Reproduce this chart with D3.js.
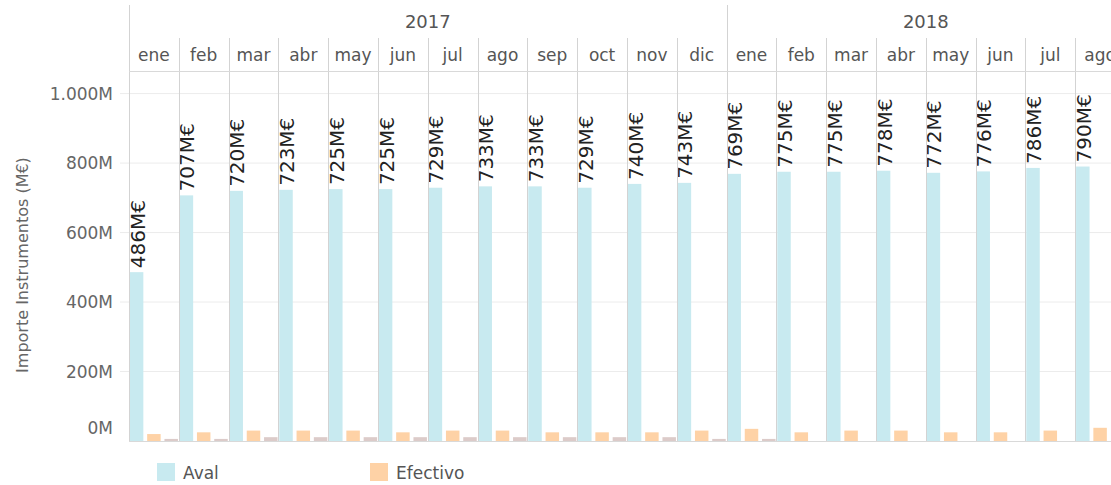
<!DOCTYPE html>
<html>
<head>
<meta charset="utf-8">
<script src="https://cdn.jsdelivr.net/npm/d3@7"></script>
<style>
  body { margin: 0; background: #fff; }
  svg { display: block; font-family: "DejaVu Sans", sans-serif; }
</style>
</head>
<body>
<svg id="chart" width="1111" height="485"></svg>
<script>
// data
const years = ["2017", "2018"];
const months2017 = ["ene", "feb", "mar", "abr", "may", "jun", "jul", "ago", "sep", "oct", "nov", "dic"];
const months2018 = ["ene", "feb", "mar", "abr", "may", "jun", "jul", "ago"];
const aval = [486, 707, 720, 723, 725, 725, 729, 733, 733, 729, 740, 743,
              769, 775, 775, 778, 772, 776, 786, 790];
const efectivo = [20, 25, 30, 30, 30, 25, 30, 30, 25, 25, 25, 30,
                  35, 25, 30, 30, 25, 25, 30, 38];
const otros = [6, 6, 11, 11, 11, 11, 11, 11, 11, 11, 11, 6,
               6, 0, 0, 0, 0, 0, 0, 0];
const seriesNames = ["Aval", "Efectivo", "Otros"];
const legendNames = ["Aval", "Efectivo"];
const yTicks = [0, 200, 400, 600, 800, 1000];

const colors = {"Aval": "#c8eaf0", "Efectivo": "#fed2a6", "Otros": "#dccbc9"};

const svg = d3.select("#chart");
const W = 1111;
const left = 129;
const paneW = 49.8;
const headerTop = 5, monthTop = 38, headerBottom = 71;

const cells = [];
months2017.forEach(m => cells.push({year: "2017", month: m}));
months2018.forEach(m => cells.push({year: "2018", month: m}));
cells.forEach((c, i) => {
    c.i = i;
    c.Aval = aval[i];
    c.Efectivo = efectivo[i];
    c.Otros = otros[i];
});

const x = d3.scaleBand()
    .domain(cells.map(c => c.i))
    .range([left, left + paneW * cells.length]);

const xSub = d3.scaleBand()
    .domain(seriesNames)
    .range([0, x.bandwidth()])
    .paddingInner(0.22)
    .paddingOuter(0.05);

const y = d3.scaleLinear()
    .domain([0, 1065])
    .range([441, headerBottom]);

const fmtTick = d => d3.format(",")(d).replace(/,/g, ".") + "M";

// gridlines
svg.append("g")
    .selectAll("line")
    .data(yTicks.filter(d => d > 0))
    .join("line")
    .attr("x1", left - 9).attr("x2", W)
    .attr("y1", d => y(d)).attr("y2", d => y(d))
    .attr("stroke", "#ececec")
    .attr("stroke-width", 1);

// bars
const pane = svg.append("g")
    .selectAll("g")
    .data(cells)
    .join("g")
    .attr("transform", d => `translate(${x(d.i)},0)`);

pane.selectAll("rect")
    .data(d => seriesNames.map(k => ({key: k, value: d[k]})))
    .join("rect")
    .attr("x", d => xSub(d.key))
    .attr("width", xSub.bandwidth())
    .attr("y", d => y(d.value))
    .attr("height", d => y(0) - y(d.value))
    .attr("fill", d => colors[d.key]);

// value labels over Aval bars
pane.append("text")
    .attr("transform", d => `translate(${xSub("Aval") + xSub.bandwidth() / 2 + 1},${y(d.Aval) - 4}) rotate(-90)`)
    .attr("dominant-baseline", "central")
    .attr("font-size", 20)
    .attr("fill", "#222")
    .text(d => d.Aval + "M€");

// baseline
svg.append("line")
    .attr("x1", left).attr("x2", W)
    .attr("y1", y(0) + 0.5).attr("y2", y(0) + 0.5)
    .attr("stroke", "#d9d9d9");

// month dividers
svg.append("g")
    .selectAll("line")
    .data(cells.filter(c => c.month !== "ene"))
    .join("line")
    .attr("x1", d => Math.round(x(d.i)) + 0.5).attr("x2", d => Math.round(x(d.i)) + 0.5)
    .attr("y1", monthTop).attr("y2", y(0))
    .attr("stroke", "#d3d3d3");

// year dividers
svg.append("g")
    .selectAll("line")
    .data(cells.filter(c => c.month === "ene"))
    .join("line")
    .attr("x1", d => Math.round(x(d.i)) + 0.5).attr("x2", d => Math.round(x(d.i)) + 0.5)
    .attr("y1", headerTop).attr("y2", y(0))
    .attr("stroke", "#d3d3d3");

// header bottom line
svg.append("line")
    .attr("x1", left).attr("x2", W)
    .attr("y1", headerBottom + 0.5).attr("y2", headerBottom + 0.5)
    .attr("stroke", "#d9d9d9");

// month labels
svg.append("g")
    .selectAll("text")
    .data(cells)
    .join("text")
    .attr("x", d => x(d.i) + x.bandwidth() / 2)
    .attr("y", 55)
    .attr("text-anchor", "middle")
    .attr("dominant-baseline", "central")
    .attr("font-size", 17)
    .attr("fill", "#555")
    .text(d => d.month);

// year labels, centred on visible part of each year
svg.append("g")
    .selectAll("text")
    .data(years)
    .join("text")
    .attr("x", yr => {
        const idx = cells.filter(c => c.year === yr).map(c => c.i);
        const x0 = x(idx[0]);
        const x1 = Math.min(x(idx[idx.length - 1]) + x.bandwidth(), W + 20);
        return (x0 + x1) / 2;
    })
    .attr("y", 21)
    .attr("text-anchor", "middle")
    .attr("dominant-baseline", "central")
    .attr("font-size", 18)
    .attr("fill", "#555")
    .text(d => d);

// y axis labels
svg.append("g")
    .selectAll("text")
    .data(yTicks)
    .join("text")
    .attr("x", 113)
    .attr("y", d => d === 0 ? y(0) - 13 : y(d))
    .attr("text-anchor", "end")
    .attr("dominant-baseline", "central")
    .attr("font-size", 17)
    .attr("fill", "#666")
    .text(fmtTick);

// axis title
svg.append("text")
    .attr("transform", "translate(22,265) rotate(-90)")
    .attr("text-anchor", "middle")
    .attr("dominant-baseline", "central")
    .attr("font-size", 16)
    .attr("fill", "#666")
    .text("Importe Instrumentos (M€)");

// legend
const legend = svg.append("g")
    .selectAll("g")
    .data(legendNames)
    .join("g")
    .attr("transform", (d, i) => `translate(${157 + i * 213},463)`);

legend.append("rect")
    .attr("width", 18).attr("height", 18)
    .attr("fill", d => colors[d]);

legend.append("text")
    .attr("x", 26).attr("y", 10)
    .attr("dominant-baseline", "central")
    .attr("font-size", 17)
    .attr("fill", "#555")
    .text(d => d);
</script>
</body>
</html>
